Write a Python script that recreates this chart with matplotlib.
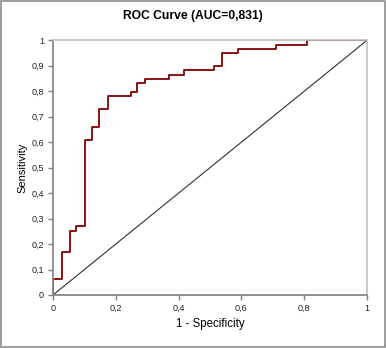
import matplotlib
matplotlib.use("Agg")
import matplotlib.pyplot as plt
from matplotlib.patches import Rectangle

# ROC curve step points (1 - specificity, sensitivity)
fpr = [0.0, 0.0, 0.029, 0.029, 0.053, 0.053, 0.074, 0.074, 0.101, 0.101,
       0.125, 0.125, 0.148, 0.148, 0.174, 0.174, 0.247, 0.247, 0.269, 0.269,
       0.294, 0.294, 0.368, 0.368, 0.416, 0.416, 0.514, 0.514, 0.539, 0.539,
       0.588, 0.588, 0.709, 0.709, 0.808, 0.808, 1.0]
tpr = [0.0, 0.064, 0.064, 0.168, 0.168, 0.252, 0.252, 0.271, 0.271, 0.607,
       0.607, 0.658, 0.658, 0.729, 0.729, 0.780, 0.780, 0.797, 0.797, 0.832,
       0.832, 0.847, 0.847, 0.863, 0.863, 0.883, 0.883, 0.898, 0.898, 0.949,
       0.949, 0.965, 0.965, 0.983, 0.983, 1.0, 1.0]
diag = [0.0, 1.0]

xticks = [0, 0.2, 0.4, 0.6, 0.8, 1]
xticklabels = ["0", "0,2", "0,4", "0,6", "0,8", "1"]
yticks = [0, 0.1, 0.2, 0.3, 0.4, 0.5, 0.6, 0.7, 0.8, 0.9, 1]
yticklabels = ["0", "0,1", "0,2", "0,3", "0,4", "0,5", "0,6", "0,7", "0,8", "0,9", "1"]

plt.rcParams['font.family'] = ['Liberation Sans', 'DejaVu Sans']

fig = plt.figure(figsize=(3.86, 3.48), dpi=100)
fig.patches.append(Rectangle((0.0015, 0.0015), 0.997, 0.997, transform=fig.transFigure,
                             fill=False, edgecolor='#8c8c8c', linewidth=1.2))
ax = fig.add_axes([53/386, 1-295/348, 314/386, (295-40.3)/348])

ax.plot(diag, diag, color='#303030', linewidth=0.8)
ax.plot(fpr, tpr, color='#800000', linewidth=1.3)

ax.set_xlim(0, 1)
ax.set_ylim(0, 1)
ax.set_xticks(xticks)
ax.set_xticklabels(xticklabels)
ax.set_yticks(yticks)
ax.set_yticklabels(yticklabels)
ax.tick_params(axis='both', direction='out', length=3.5, width=1, color='#808080',
               labelsize=6.5, labelcolor='#202020', pad=3)
ax.tick_params(axis='x', pad=3)

for s in ['left', 'bottom']:
    ax.spines[s].set_color('#808080')
    ax.spines[s].set_linewidth(1.2)
for s in ['top', 'right']:
    ax.spines[s].set_color('#c0c0c0')
    ax.spines[s].set_linewidth(1.2)

fig.text(210/386, 1-323.5/348, "1 - Specificity", ha='center', va='center', fontsize=8.3)
fig.text(22.7/386, 1-(295+40.3)/2/348, "Sensitivity", ha='center', va='center',
         fontsize=8, rotation=90)
fig.text(193/386, 1-16/348, "ROC Curve (AUC=0,831)", ha='center', va='center',
         fontsize=8.7, fontweight='bold')

fig.savefig("out.png", dpi=100)
